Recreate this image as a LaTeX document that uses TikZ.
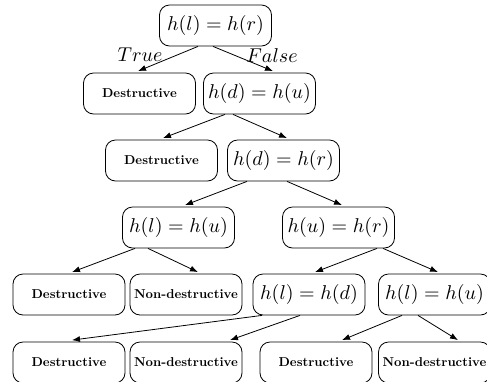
\documentclass[tikz,border=0pt]{standalone}
\usetikzlibrary{arrows.meta,calc}
\newcommand{\restxt}[1]{\scalebox{0.644}{\bfseries #1}}
\begin{document}
\begin{tikzpicture}[x=0.5pt, y=0.5pt,
    b/.style={rectangle, rounded corners=5pt, draw, align=center,
      minimum width=56pt, minimum height=20.5pt, inner sep=2pt},
    res/.style={b},
    fl/.style={-{Latex[length=4pt, width=3pt]}}]
    \useasboundingbox (0,0) rectangle (487,-381);
    % test nodes
    \node[b] (root) at (215.5,-25.5) {$h(l)=h(r)$};
    \node[res] (d1) at (139.5,-93.5) {\restxt{Destructive}};
    \node[b] (du) at (259.5,-93.5) {$h(d)=h(u)$};
    \node[res] (d2) at (161.5,-160.5) {\restxt{Destructive}};
    \node[b] (dr) at (283.5,-160.5) {$h(d)=h(r)$};
    \node[b] (lu) at (178.5,-227.5) {$h(l)=h(u)$};
    \node[b] (ur) at (338.5,-227.5) {$h(u)=h(r)$};
    % results of h(l)=h(u) and next tests
    \node[res] (d3) at (69,-294.5) {\restxt{Destructive}};
    \node[res] (nd3) at (186,-294.5) {\restxt{Non-destructive}};
    \node[b] (ld) at (309,-294.5) {$h(l)=h(d)$};
    \node[b] (lu2) at (434.5,-294.5) {$h(l)=h(u)$};
    % last row
    \node[res] (d4) at (69,-362.5) {\restxt{Destructive}};
    \node[res] (nd4) at (186,-362.5) {\restxt{Non-destructive}};
    \node[res] (d5) at (316,-362.5) {\restxt{Destructive}};
    \node[res] (nd5) at (434.5,-362.5) {\restxt{Non-destructive}};
    \node (tr) at (140,-55) {$True$};
    \node (fa) at (272,-56) {$False$};
    \draw[fl] ($(root.south)+(-17.5,0)$) -- ($(d1.north)+(-1.5,1.5)$);
    \draw[fl] ($(root.south)+(-2.5,0)$) -- ($(du.north)+(13.5,1.5)$);
    \draw[fl] ($(du.south)+(-34.5,0)$) -- ($(d2.north)+(1.5,1.5)$);
    \draw[fl] ($(du.south)+(-26.5,0)$) -- ($(dr.north)+(3.5,1.5)$);
    \draw[fl] ($(dr.south)+(-36.5,0)$) -- ($(lu.north)+(6.5,1.5)$);
    \draw[fl] ($(dr.south)+(3.5,0)$) -- ($(ur.north)+(3.5,1.5)$);
    \draw[fl] ($(lu.south)+(-43.5,0)$) -- ($(d3.north)+(3,1.5)$);
    \draw[fl] ($(lu.south)+(-30.5,0)$) -- ($(nd3.north)+(12,1.5)$);
    \draw[fl] ($(ur.south)+(38.5,0)$) -- ($(ld.north)+(6,1.5)$);
    \draw[fl] ($(ur.south)+(44.5,0)$) -- ($(lu2.north)+(3.5,1.5)$);
    \draw[fl] ($(ld.south)+(-47,0)$) -- ($(d4.north)+(3,1.5)$);
    \draw[fl] ($(ld.south)+(-9,0)$) -- ($(nd4.north)+(44,1.5)$);
    \draw[fl] ($(lu2.south)+(-32.5,0)$) -- ($(d5.north)+(26,1.5)$);
    \draw[fl] ($(lu2.south)+(-16.5,0)$) -- ($(nd5.north)+(23.5,1.5)$);
\end{tikzpicture}
\end{document}
